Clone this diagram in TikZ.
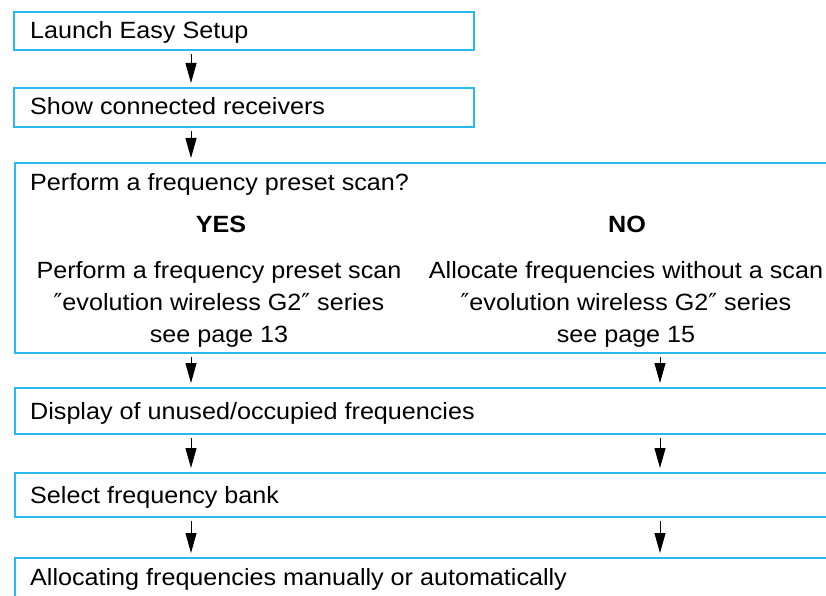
\documentclass[tikz,border=0pt]{standalone}
\usepackage{fontspec}
\setmainfont{Liberation Sans}[FakeStretch=1.07]
\newfontfamily\dvfont{DejaVu Sans}
\newcommand\dq{{\dvfont ″}}
\usetikzlibrary{arrows.meta}
\definecolor{frame}{RGB}{40,185,240}
\begin{document}
\begin{tikzpicture}[x=1pt,y=-1pt]
	\def\fs{\fontsize{23.5}{32}\selectfont}
	\tikzset{b/.style={draw=frame,line width=1.2pt,rectangle,outer sep=0pt,anchor=north west,minimum width=460pt,minimum height=38pt,inner sep=0pt},
		w/.style={rectangle,outer sep=0pt,anchor=north west,minimum width=811pt,inner sep=0pt},
		t/.style={anchor=base west,inner sep=0pt,font=\fs},
		c/.style={anchor=base,inner sep=0pt,font=\fs},
		ar/.style={-{Triangle[length=20pt,width=11pt]},line width=1pt,shorten <=4pt,shorten >=5pt}}
	\useasboundingbox(0,0)rectangle(826,596);
	% boxes
	\path(14,12)node[b](launch){}(14,88)node[b,minimum height=39pt](show){};
	\path(15,163)node[w,minimum height=190pt](perf){}(15,388)node[w,minimum height=46pt](disp){}
	(15,473)node[w,minimum height=44pt](sel){}(15,558)node[w,minimum height=50pt](alloc){};
	\foreach \n in {perf,disp,sel}
	\draw[frame,line width=1.2pt](\n.north east)--(\n.north west)--(\n.south west)--(\n.south east);
	\draw[frame,line width=1.2pt](alloc.north east)--(alloc.north west)--(alloc.south west);
	% texts
	\path(30,39)node[t](l1){Launch Easy Setup}(30,115)node[t](l2){Show connected receivers}
	(30,190)node[t](q){Perform a frequency preset scan?}
	(221,232)node[c,font=\fs\bfseries](yes){YES}(627,232)node[c,font=\fs\bfseries](no){NO};
	\path(219,278)node[c](y1){Perform a frequency preset scan}(219,310)node[c](y2){\dq evolution wireless G2\dq{} series}
	(219,342)node[c](y3){see page 13};
	\path(626,278)node[c](n1){Allocate frequencies without a scan}(626,310)node[c](n2){\dq evolution wireless G2\dq{} series}
	(626,342)node[c](n3){see page 15};
	\path(30,419)node[t](l3){Display of unused/occupied frequencies}(30,503)node[t](l4){Select frequency bank}
	(30,585)node[t](l5){Allocating frequencies manually or automatically};
	% arrows
	\coordinate(L)at(191,0);\coordinate(R)at(660,0);
	\foreach \x/\y in {launch/show,show/perf}
	\draw[ar](\x.south -| L)--(\y.north -| L);
	\foreach \x/\y in {perf/disp,disp/sel,sel/alloc}
	\foreach \k in {L,R}
	\draw[ar](\x.south -| \k)--(\y.north -| \k);
\end{tikzpicture}
\end{document}
